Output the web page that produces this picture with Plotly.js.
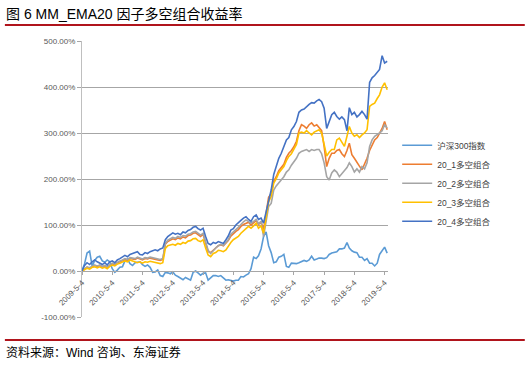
<!DOCTYPE html>
<html><head><meta charset="utf-8">
<script src="https://cdn.plot.ly/plotly-3.0.1.min.js"></script>
<style>body{margin:0;padding:0;background:#fff}#chart{width:530px;height:366px}</style>
</head><body><div id="chart"></div>
<script>
// monthly observation dates, 2009-05-04 .. 2019-06-04
const startYear = 2009, startMonth = 5, nPoints = 122;
const dates = [];
for (let i = 0; i < nPoints; i++) {
  const m0 = startMonth - 1 + i;
  const y = startYear + Math.floor(m0 / 12), m = (m0 % 12) + 1;
  dates.push(y + '-' + String(m).padStart(2, '0') + '-04');
}
const seriesNames = ['沪深300指数', '20_1多空组合', '20_2多空组合', '20_3多空组合', '20_4多空组合'];
const hs300 = [0,16,39,43,10,23,30,32,22,19,24,20,5,-3,2,8,9,22,26,16,12,18,19,20,14,10,13,8,-3,-2,2,-10,-12,-3,-4,-6,-2,-9,-12,-16,-19,-14,-18,-20,-3,0,-4,-9,-5,-4,-20,-15,-10,-10,-12,-10,-15,-20,-19,-21,-22,-20,-20,-12,-13,-9,-6,5,30,27,33,48,75,85,55,40,18,20,30,32,36,10,8,17,17,16,18,20,23,21,24,32,24,26,28,28,27,29,36,39,41,42,48,48,50,62,50,44,41,40,30,30,23,27,17,17,11,17,36,43,52,39];
const p1 = [0,4,8,6,10,12,10,12,9,11,8,13,16,14,18,20,22,25,23,27,26,25,28,26,24,27,26,28,27,25,24,23,25,58,64,68,70,68,72,70,74,72,77,78,82,83,79,75,80,58,42,40,46,50,55,57,55,60,66,76,82,86,90,97,101,104,106,100,104,110,101,106,90,125,160,168,195,205,218,225,232,247,256,262,270,282,305,318,315,310,318,322,315,318,312,305,271,227,245,256,256,262,264,255,249,262,278,253,245,235,228,220,232,245,262,272,285,290,300,310,325,307];
const p2 = [0,5,9,7,11,13,11,13,10,12,9,14,17,15,19,22,24,27,25,29,28,27,30,28,26,29,28,30,29,27,26,25,27,60,67,71,73,71,75,73,77,76,80,81,85,86,82,78,82,60,45,38,45,50,55,58,56,62,68,80,86,90,95,102,107,111,108,104,108,112,103,108,75,110,140,147,176,185,191,198,205,215,220,230,238,245,256,260,262,264,260,264,262,264,264,255,235,205,198,213,220,215,205,212,220,225,235,227,215,222,215,227,222,235,271,285,293,296,300,305,318,311];
const p3 = [0,3,6,4,8,9,7,9,6,8,5,10,13,11,15,17,19,22,20,24,22,20,18,20,17,20,19,21,20,18,17,16,18,49,55,57,58,56,60,58,62,60,65,66,70,71,66,64,68,50,35,31,38,40,45,44,42,46,55,62,68,71,75,82,88,92,97,93,98,104,93,98,82,118,150,162,191,200,213,220,227,240,249,255,264,275,300,302,300,305,300,296,302,305,307,300,278,250,258,264,264,285,289,280,271,293,314,300,293,296,290,296,300,307,358,362,365,375,383,400,409,394];
const p4 = [0,12,18,14,20,24,20,17,14,18,13,20,22,18,24,27,30,34,31,36,38,40,42,36,35,40,38,42,44,46,44,48,50,68,75,80,83,80,82,79,85,83,88,90,95,97,92,89,93,75,60,57,62,60,64,62,60,68,76,89,92,100,104,110,115,118,112,108,118,122,112,115,104,128,155,176,210,230,245,256,271,285,290,307,314,325,345,350,352,358,362,366,365,370,373,368,354,310,325,340,345,336,330,335,329,305,355,340,345,335,340,347,340,330,410,420,425,432,438,468,452,456];
const seriesColors = ['#5B9BD5', '#ED7D31', '#A5A5A5', '#FFC000', '#4472C4'];
const yTickVals = [-100, 0, 100, 200, 300, 400, 500];
const yTickText = ['-100.00%', '0.00%', '100.00%', '200.00%', '300.00%', '400.00%', '500.00%'];
const xTickVals = ['2009-05-04','2010-05-04','2011-05-04','2012-05-04','2013-05-04','2014-05-04','2015-05-04','2016-05-04','2017-05-04','2018-05-04','2019-05-04'];
const xTickText = ['2009-5-4','2010-5-4','2011-5-4','2012-5-4','2013-5-4','2014-5-4','2015-5-4','2016-5-4','2017-5-4','2018-5-4','2019-5-4'];

const allSeries = [hs300, p1, p2, p3, p4];
const traces = allSeries.map((s, k) => ({
  type: 'scatter', mode: 'lines', x: dates, y: s, name: seriesNames[k],
  line: {color: seriesColors[k], width: 1.6}
}));

const layout = {
  width: 530, height: 366,
  margin: {l: 82, r: 142, t: 41, b: 49},
  paper_bgcolor: '#fff', plot_bgcolor: '#fff',
  font: {family: 'Liberation Sans, Arial, sans-serif', size: 8, color: '#595959'},
  showlegend: true,
  legend: {x: 1.03, y: 0.675, xanchor: 'left', yanchor: 'top', itemwidth: 30,
    font: {family: 'Liberation Sans, Noto Sans CJK SC, sans-serif', size: 8.5, color: '#404040'},
    bgcolor: 'rgba(0,0,0,0)', tracegroupgap: 0},
  xaxis: {
    type: 'date', range: ['2009-05-04', '2019-06-14'],
    anchor: 'free', position: 1/6,
    tickvals: xTickVals, ticktext: xTickText, tickangle: -45,
    showgrid: false, zeroline: false, showline: true, linecolor: '#A6A6A6', linewidth: 1,
    ticks: 'outside', ticklen: 3, tickcolor: '#A6A6A6',
    tickfont: {size: 8, color: '#595959'}
  },
  yaxis: {
    range: [-100, 500], tickvals: yTickVals, ticktext: yTickText,
    showgrid: true, gridcolor: '#A6A6A6', gridwidth: 1, zeroline: false,
    showline: true, linecolor: '#BFBFBF', ticks: 'outside', ticklen: 4, tickcolor: '#A6A6A6',
    tickfont: {size: 8, color: '#595959'}
  },
  shapes: [
    {type: 'line', xref: 'paper', yref: 'paper', x0: -0.252, x1: 1.447, y0: 1.0578, y1: 1.0578, line: {color: '#B0141C', width: 2}},
    {type: 'line', xref: 'paper', yref: 'paper', x0: -0.252, x1: 1.447, y0: -0.083, y1: -0.083, line: {color: '#B0141C', width: 2}}
  ],
  annotations: [
    {xref: 'paper', yref: 'paper', x: -0.255, y: 1.098, xanchor: 'left', yanchor: 'middle', showarrow: false,
     text: '图 6 MM_EMA20 因子多空组合收益率', font: {family: 'Liberation Sans, Noto Sans CJK SC, sans-serif', size: 14, color: '#000'}},
    {xref: 'paper', yref: 'paper', x: -0.255, y: -0.13, xanchor: 'left', yanchor: 'middle', showarrow: false,
     text: '资料来源：Wind 咨询、东海证券', font: {family: 'Liberation Sans, Noto Sans CJK SC, sans-serif', size: 12, color: '#000'}}
  ]
};
Plotly.newPlot('chart', traces, layout, {displayModeBar: false, staticPlot: true});
</script></body></html>
